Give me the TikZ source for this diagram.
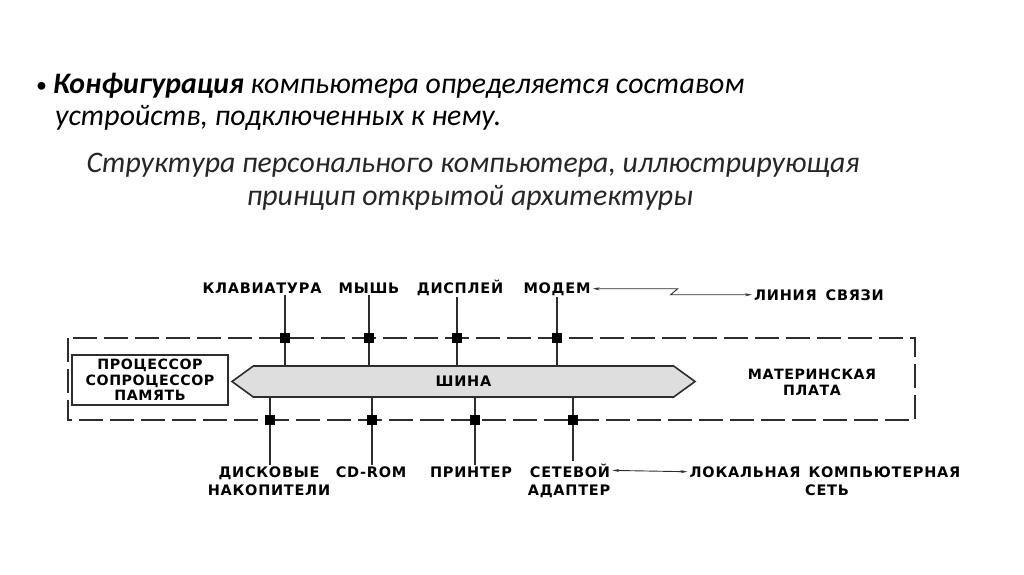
\documentclass[tikz,border=0pt]{standalone}
\usepackage{fontspec}
\setmainfont{Carlito}
\newfontfamily\pixfont[LetterSpace=5]{DejaVu Sans}
\newfontfamily\boxfont[LetterSpace=4]{DejaVu Sans}
\definecolor{WireGray}{RGB}{45,45,45}
\definecolor{BusGray}{RGB}{222,222,222}
\usetikzlibrary{arrows.meta,positioning,calc,shapes.symbols}
\tikzset{
  devlabel/.style={font=\pixfont\bfseries\fontsize{14.5}{18}\selectfont, inner sep=2pt, align=center},
  boardlabel/.style={font=\boxfont\bfseries\fontsize{14.2}{15.5}\selectfont, inner sep=2pt, align=center},
  slidetext/.style={inner sep=0pt, font=\fontsize{29.8}{33}\selectfont\itshape},
  port/.style={fill=black, minimum size=10pt, inner sep=0pt},
  wire/.style={WireGray, line width=1.6pt},
  twotip/.style={WireGray, line width=0.9pt, {Stealth[length=7pt,width=3pt]}-{Stealth[length=7pt,width=3pt]}},
}

\begin{document}
\begin{tikzpicture}[x=1pt,y=-1pt]
\useasboundingbox (0,0) rectangle (1024,574);
% Slide text
\node[anchor=base west, inner sep=0pt, font=\fontsize{22}{24}\selectfont] (dot) at (36,92) {•};
\node[slidetext, anchor=base west] (bul1) at (53,93) {\textbf{Конфигурация} компьютера определяется составом};
\node[slidetext, anchor=base west] (bul2) at (55,125) {устройств, подключенных к нему.};
\node[slidetext, anchor=base, text=black!85] (ttl1) at (473,172) {Структура персонального компьютера, иллюстрирующая};
\node[slidetext, anchor=base, text=black!85] (ttl2) at (470,205) {принцип открытой архитектуры};
% Motherboard frame
\draw[wire, dash pattern=on 24pt off 7pt] (68,338) rectangle (915,420);
\node[boardlabel] (mb) at (812,382) {МАТЕРИНСКАЯ\\ПЛАТА};
\node[boardlabel, draw=WireGray, line width=2.2pt, minimum width=156pt, minimum height=50pt] (cpu) at (150,380) {ПРОЦЕССОР\\СОПРОЦЕССОР\\ПАМЯТЬ};
% Bus
\node[signal, signal to=west and east, signal pointer angle=72, draw=WireGray, fill=BusGray, line width=1.6pt,
  minimum width=463pt, minimum height=31pt, inner sep=0pt, devlabel] (bus) at (463.5,381.5) {ШИНА};
% Ports on the frame
\node[port] (pk) at (285,338) {};
\node[port] (pm) at (369,338) {};
\node[port] (pd) at (457,338) {};
\node[port] (pn) at (557,338) {};
\node[port] (qd) at (270,420) {};
\node[port] (qc) at (372,420) {};
\node[port] (qp) at (475,420) {};
\node[port] (qn) at (573,420) {};
% Upper devices
\node[devlabel, anchor=base] (kbd) at (262,293) {КЛАВИАТУРА};
\node[devlabel, anchor=base] (mouse) at (369,293) {МЫШЬ};
\node[devlabel, anchor=base] (disp) at (460,293) {ДИСПЛЕЙ};
\node[devlabel, anchor=base] (modem) at (557,293) {МОДЕМ};
\node[devlabel, anchor=base] (link) at (819,300) {ЛИНИЯ\hspace{9pt}СВЯЗИ};
\foreach \dev/\pt in {kbd/pk, mouse/pm, disp/pd, modem/pn}
  \draw[wire] (\dev.south -| \pt) -- (\pt) -- (\pt |- bus.north);
\coordinate (zz) at ($(modem.east)+(85,0)$);
\draw[twotip] (modem.east) -- (zz) -- ([xshift=-7pt]zz |- link.west) -- (link.west);
% Lower devices
\node[devlabel, anchor=north] (disk) at (269,465) {ДИСКОВЫЕ\\НАКОПИТЕЛИ};
\node[devlabel, anchor=north] (cd) at (371,465) {CD-ROM};
\node[devlabel, anchor=north] (prn) at (471,465) {ПРИНТЕР};
\node[devlabel, anchor=base] (net) at (570,477) {СЕТЕВОЙ};
\node[devlabel, anchor=base] (netb) at (569,495) {АДАПТЕР};
\node[devlabel, anchor=base] (lan) at (825,477) {ЛОКАЛЬНАЯ\hspace{8pt}КОМПЬЮТЕРНАЯ};
\node[devlabel, anchor=base] (lanb) at (827,495) {СЕТЬ};
\foreach \dev/\pt in {disk/qd, cd/qc, prn/qp, net/qn}
  \draw[wire] (bus.south -| \pt) -- (\pt) -- (\pt |- \dev.north);
\draw[twotip] (net.east) -- (lan.west);
\end{tikzpicture}
\end{document}
